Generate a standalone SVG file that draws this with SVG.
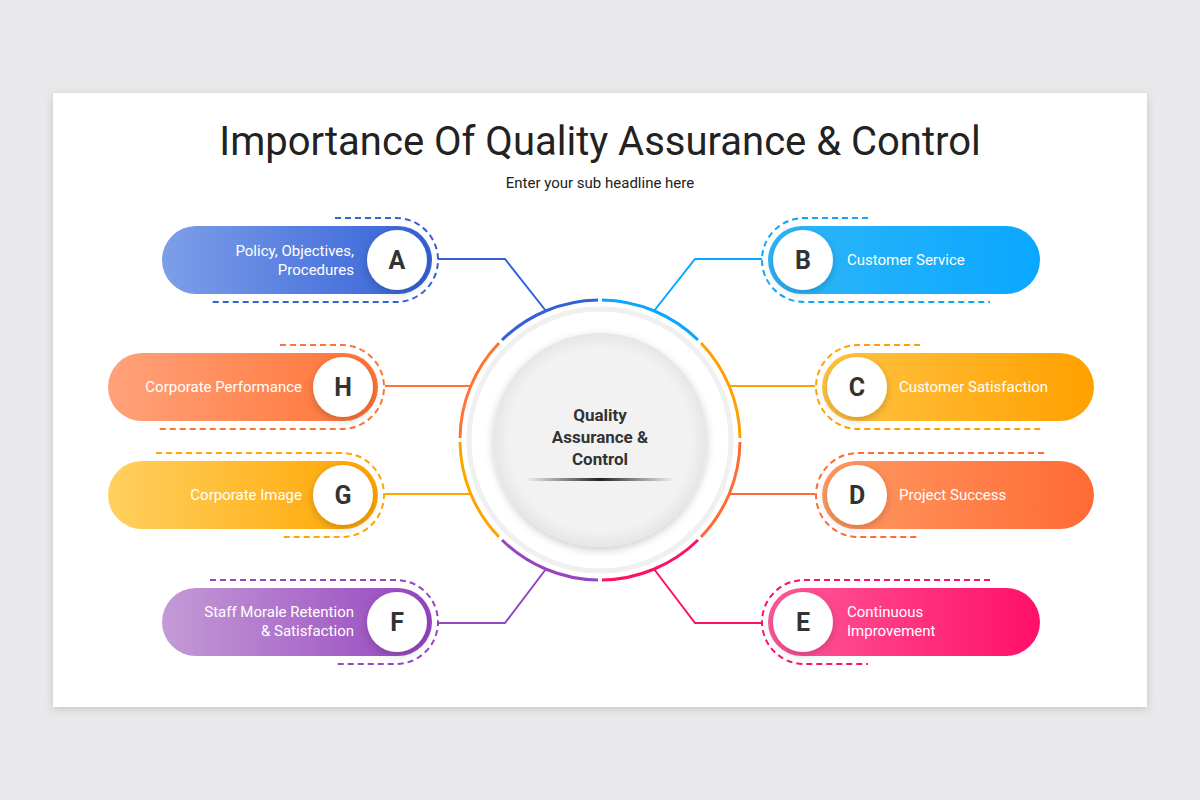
<svg xmlns="http://www.w3.org/2000/svg" width="1200" height="800" viewBox="0 0 1200 800">
<defs>
<filter id="sh" x="-10%" y="-10%" width="120%" height="120%"><feDropShadow dx="0" dy="2" stdDeviation="4" flood-color="#000" flood-opacity="0.15"/></filter>
<filter id="sh2" x="-30%" y="-30%" width="160%" height="160%"><feDropShadow dx="0" dy="3" stdDeviation="4" flood-color="#000" flood-opacity="0.2"/></filter>
<linearGradient id="gA"><stop offset="0" stop-color="#7d9fe9"/><stop offset="1" stop-color="#3461d6"/></linearGradient>
<linearGradient id="gB"><stop offset="0" stop-color="#2fb6f8"/><stop offset="1" stop-color="#0aa7ff"/></linearGradient>
<linearGradient id="gC"><stop offset="0" stop-color="#ffc443"/><stop offset="1" stop-color="#ffa000"/></linearGradient>
<linearGradient id="gD"><stop offset="0" stop-color="#ff9a62"/><stop offset="1" stop-color="#ff6a35"/></linearGradient>
<linearGradient id="gE"><stop offset="0" stop-color="#ff5a9a"/><stop offset="1" stop-color="#ff0f68"/></linearGradient>
<linearGradient id="gF"><stop offset="0" stop-color="#c49bd6"/><stop offset="1" stop-color="#9645c0"/></linearGradient>
<linearGradient id="gG"><stop offset="0" stop-color="#ffd060"/><stop offset="1" stop-color="#ffa500"/></linearGradient>
<linearGradient id="gH"><stop offset="0" stop-color="#ffa27b"/><stop offset="1" stop-color="#ff7335"/></linearGradient>
<linearGradient id="ul"><stop offset="0" stop-color="#333" stop-opacity="0"/><stop offset="0.5" stop-color="#222"/><stop offset="1" stop-color="#333" stop-opacity="0"/></linearGradient>
<radialGradient id="cg"><stop offset="0.85" stop-color="#f2f2f2"/><stop offset="1" stop-color="#e6e6e6"/></radialGradient>
</defs>
<style>
text{font-family:Roboto,"Liberation Sans",sans-serif}
.pt{fill:#fff;font-size:15px}
.lt{fill:#333;font-size:25px;font-weight:bold;text-anchor:middle}
.dc{fill:#fff;filter:url(#sh2)}
.ds{fill:none;stroke-width:2;stroke-dasharray:6 4}
.cn{fill:none;stroke-width:2}
.arc{fill:none;stroke-width:3}
</style>
<rect width="1200" height="800" fill="#e9e8ea"/>
<rect x="53" y="93" width="1094" height="614" fill="#fff" filter="url(#sh)"/>
<text x="600" y="155" font-size="40" fill="#222" text-anchor="middle">Importance Of Quality Assurance &amp; Control</text>
<text x="600" y="188" font-size="15" fill="#222" text-anchor="middle">Enter your sub headline here</text>

<g id="connectors">
<polyline class="cn" stroke="#3461d6" points="438,259 505,259 546,311"/>
<polyline class="cn" stroke="#0aa7ff" points="762,259 695,259 654,311"/>
<line class="cn" stroke="#ff7335" x1="385" y1="386" x2="471" y2="386"/>
<line class="cn" stroke="#ffa500" x1="385" y1="494" x2="471" y2="494"/>
<line class="cn" stroke="#ffa000" x1="729" y1="386" x2="815" y2="386"/>
<line class="cn" stroke="#ff6a35" x1="729" y1="494" x2="815" y2="494"/>
<polyline class="cn" stroke="#9645c0" points="438,623 505,623 546,569"/>
<polyline class="cn" stroke="#ff0f68" points="762,623 695,623 654,569"/>
</g>

<g id="center">
<circle cx="600" cy="440" r="131" fill="none" stroke="#f0f0f0" stroke-width="5"/>
<path class="arc" stroke="#3461d6" d="M598,300 A140,140 0 0 0 502,340"/>
<path class="arc" stroke="#0aa7ff" d="M602,300 A140,140 0 0 1 698,340"/>
<path class="arc" stroke="#ffa000" d="M701,343 A140,140 0 0 1 740,438"/>
<path class="arc" stroke="#ff6a35" d="M740,442 A140,140 0 0 1 701,537"/>
<path class="arc" stroke="#ff0f68" d="M698,540 A140,140 0 0 1 602,580"/>
<path class="arc" stroke="#9645c0" d="M598,580 A140,140 0 0 1 502,540"/>
<path class="arc" stroke="#ffa500" d="M499,537 A140,140 0 0 1 460,442"/>
<path class="arc" stroke="#ff7335" d="M460,438 A140,140 0 0 1 499,343"/>
<circle cx="600" cy="440" r="107" fill="url(#cg)" filter="url(#sh2)"/>
<text x="600" y="421" font-size="17" font-weight="bold" fill="#333" text-anchor="middle">Quality</text>
<text x="600" y="443" font-size="17" font-weight="bold" fill="#333" text-anchor="middle">Assurance &amp;</text>
<text x="600" y="465" font-size="17" font-weight="bold" fill="#333" text-anchor="middle">Control</text>
<rect x="525" y="478" width="150" height="3" fill="url(#ul)"/>
</g>

<g id="nodeA">
<path class="ds" stroke="#3461d6" d="M335,218 H396 A42,42 0 0 1 396,302 H210"/>
<rect x="162" y="226" width="270" height="68" rx="34" fill="url(#gA)"/>
<circle class="dc" cx="397" cy="260" r="30"/>
<text class="pt" x="354" y="256" text-anchor="end">Policy, Objectives,</text>
<text class="pt" x="354" y="275" text-anchor="end">Procedures</text>
<text class="lt" x="397" y="269">A</text>
</g>
<g id="nodeH">
<path class="ds" stroke="#ff7335" d="M280,345 H342 A42,42 0 0 1 342,429 H156"/>
<rect x="108" y="353" width="270" height="68" rx="34" fill="url(#gH)"/>
<circle class="dc" cx="343" cy="387" r="30"/>
<text class="pt" x="302" y="392" text-anchor="end">Corporate Performance</text>
<text class="lt" x="343" y="396">H</text>
</g>
<g id="nodeG">
<path class="ds" stroke="#ffa500" d="M156,453 H342 A42,42 0 0 1 342,537 H280"/>
<rect x="108" y="461" width="270" height="68" rx="34" fill="url(#gG)"/>
<circle class="dc" cx="343" cy="495" r="30"/>
<text class="pt" x="302" y="500" text-anchor="end">Corporate Image</text>
<text class="lt" x="343" y="504">G</text>
</g>
<g id="nodeF">
<path class="ds" stroke="#9645c0" d="M210,580 H396 A42,42 0 0 1 396,664 H335"/>
<rect x="162" y="588" width="270" height="68" rx="34" fill="url(#gF)"/>
<circle class="dc" cx="397" cy="622" r="30"/>
<text class="pt" x="354" y="617" text-anchor="end">Staff Morale Retention</text>
<text class="pt" x="354" y="636" text-anchor="end">&amp; Satisfaction</text>
<text class="lt" x="397" y="631">F</text>
</g>
<g id="nodeB">
<path class="ds" stroke="#0aa7ff" d="M868,218 H804 A42,42 0 0 0 804,302 H990"/>
<rect x="768" y="226" width="272" height="68" rx="34" fill="url(#gB)"/>
<circle class="dc" cx="803" cy="260" r="30"/>
<text class="pt" x="847" y="265">Customer Service</text>
<text class="lt" x="803" y="269">B</text>
</g>
<g id="nodeC">
<path class="ds" stroke="#ffa000" d="M920,345 H858 A42,42 0 0 0 858,429 H1044"/>
<rect x="822" y="353" width="272" height="68" rx="34" fill="url(#gC)"/>
<circle class="dc" cx="857" cy="387" r="30"/>
<text class="pt" x="899" y="392">Customer Satisfaction</text>
<text class="lt" x="857" y="396">C</text>
</g>
<g id="nodeD">
<path class="ds" stroke="#ff6a35" d="M1044,453 H858 A42,42 0 0 0 858,537 H920"/>
<rect x="822" y="461" width="272" height="68" rx="34" fill="url(#gD)"/>
<circle class="dc" cx="857" cy="495" r="30"/>
<text class="pt" x="899" y="500">Project Success</text>
<text class="lt" x="857" y="504">D</text>
</g>
<g id="nodeE">
<path class="ds" stroke="#ff0f68" d="M990,580 H804 A42,42 0 0 0 804,664 H868"/>
<rect x="768" y="588" width="272" height="68" rx="34" fill="url(#gE)"/>
<circle class="dc" cx="803" cy="622" r="30"/>
<text class="pt" x="847" y="617">Continuous</text>
<text class="pt" x="847" y="636">Improvement</text>
<text class="lt" x="803" y="631">E</text>
</g>
</svg>
